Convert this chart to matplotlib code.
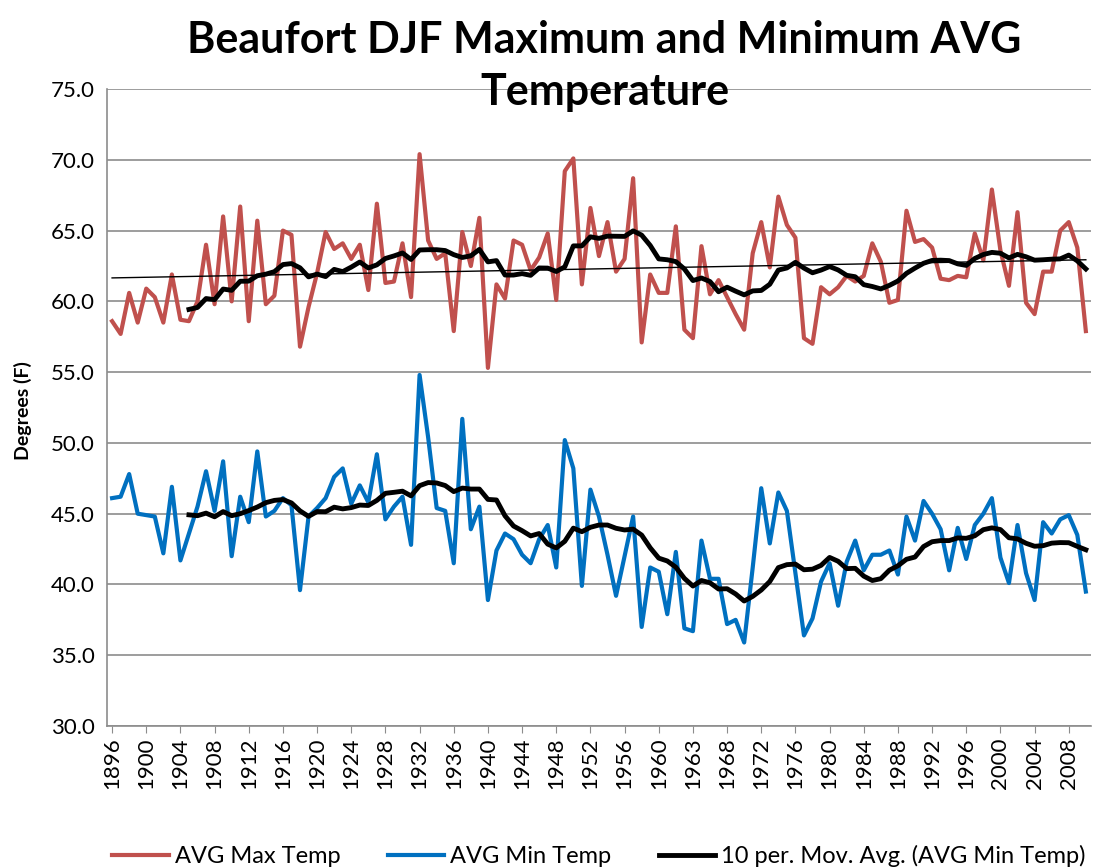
import matplotlib
matplotlib.use("Agg")
import matplotlib.pyplot as plt
import numpy as np
import pandas as pd

plt.rcParams['font.family'] = ['Lato', 'DejaVu Sans']

# Category labels (source sheet lists 1963 twice, as shown on the axis)
years = list(range(1896, 2011))
years[68] = 1963

max_temp = [58.6, 57.7, 60.6, 58.5, 60.9, 60.3, 58.5, 61.9, 58.7, 58.6,
            60.0, 64.0, 59.8, 66.0, 60.0, 66.7, 58.6, 65.7, 59.8, 60.4,
            65.0, 64.7, 56.8, 59.6, 62.0, 64.9, 63.7, 64.1, 63.0, 64.0,
            60.8, 66.9, 61.3, 61.4, 64.1, 60.3, 70.4, 64.3, 63.0, 63.4,
            57.9, 64.9, 62.5, 65.9, 55.3, 61.2, 60.2, 64.3, 64.0, 62.2,
            63.1, 64.8, 60.1, 69.2, 70.1, 61.2, 66.6, 63.2, 65.6, 62.1,
            63.0, 68.7, 57.1, 61.9, 60.6, 60.6, 65.3, 58.0, 57.4, 63.9,
            60.5, 61.5, 60.3, 59.1, 58.0, 63.4, 65.6, 62.4, 67.4, 65.4,
            64.5, 57.4, 57.0, 61.0, 60.5, 61.0, 61.8, 61.4, 61.8, 64.1,
            62.8, 59.9, 60.1, 66.4, 64.2, 64.4, 63.8, 61.6, 61.5, 61.8,
            61.7, 64.8, 62.9, 67.9, 63.6, 61.1, 66.3, 59.9, 59.1, 62.1,
            62.1, 65.0, 65.6, 63.8, 57.9]

min_temp = [46.1, 46.2, 47.8, 45.0, 44.9, 44.8, 42.2, 46.9, 41.7, 43.6,
            45.5, 48.0, 45.2, 48.7, 42.0, 46.2, 44.4, 49.4, 44.8, 45.2,
            46.1, 45.6, 39.6, 44.8, 45.4, 46.1, 47.6, 48.2, 45.7, 47.0,
            45.8, 49.2, 44.6, 45.5, 46.2, 42.8, 54.8, 50.4, 45.4, 45.2,
            41.5, 51.7, 43.9, 45.5, 38.9, 42.4, 43.6, 43.2, 42.1, 41.5,
            43.2, 44.2, 41.2, 50.2, 48.2, 39.9, 46.7, 44.8, 42.1, 39.2,
            42.0, 44.8, 37.0, 41.2, 40.9, 37.9, 42.3, 36.9, 36.7, 43.1,
            40.4, 40.4, 37.2, 37.5, 35.9, 41.2, 46.8, 42.9, 46.5, 45.2,
            40.8, 36.4, 37.6, 40.2, 41.5, 38.5, 41.6, 43.1, 41.0, 42.1,
            42.1, 42.4, 40.7, 44.8, 43.1, 45.9, 45.0, 43.9, 41.0, 44.0,
            41.8, 44.2, 45.0, 46.1, 41.9, 40.1, 44.2, 40.8, 38.9, 44.4,
            43.6, 44.6, 44.9, 43.5, 39.5]

x = np.arange(len(years))
ma_max = pd.Series(max_temp).rolling(10).mean()
ma_min = pd.Series(min_temp).rolling(10).mean()
coef = np.polyfit(x, max_temp, 1)
trend = np.polyval(coef, x)

fig = plt.figure(figsize=(10.97, 8.67), dpi=100)
ax = fig.add_axes([0.0975, 0.1626, 0.897, 0.7347])

red = '#C0504D'
blue = '#0070C0'
l1, = ax.plot(x, max_temp, color=red, lw=3.0, solid_joinstyle='round', label='AVG Max Temp', zorder=3)
l2, = ax.plot(x, min_temp, color=blue, lw=3.0, solid_joinstyle='round', label='AVG Min Temp', zorder=3)
l3, = ax.plot(x, ma_min, color='black', lw=3.5, solid_joinstyle='round',
              label='10 per. Mov. Avg. (AVG Min Temp)', zorder=4)
ax.plot(x, ma_max, color='black', lw=3.5, solid_joinstyle='round', zorder=4)
ax.plot(x, trend, color='black', lw=1.0, zorder=5)

ax.set_ylim(30, 75)
ax.set_xlim(-0.6, len(years) - 0.4)
ax.set_yticks(np.arange(30, 75.1, 5))
ax.set_yticklabels([f'{v:.1f}' for v in np.arange(30, 75.1, 5)], fontsize=16)
ax.yaxis.grid(True, color='#8c8c8c', lw=1.2)
ax.set_axisbelow(True)

ticks = x[::4]
ax.set_xticks(ticks)
ax.set_xticklabels([str(years[i]) for i in ticks], rotation=90, fontsize=16)
ax.tick_params(axis='x', length=5, color='#8c8c8c', pad=3)
ax.tick_params(axis='y', length=0, pad=9)

for s in ['top', 'right']:
    ax.spines[s].set_visible(False)
ax.spines['left'].set_color('#8c8c8c')
ax.spines['bottom'].set_color('#8c8c8c')
ax.spines['left'].set_linewidth(1.2)
ax.spines['bottom'].set_linewidth(1.2)

fig.text(0.551, 0.954, 'Beaufort DJF Maximum and Minimum AVG', ha='center', va='center',
         fontsize=31, fontweight='bold')
fig.text(0.551, 0.894, 'Temperature', ha='center', va='center',
         fontsize=31, fontweight='bold')

fig.text(0.021, 0.527, 'Degrees (F)', rotation=90, ha='center', va='center',
         fontsize=14, fontweight='bold')

fig.legend(handles=[l1, l2, l3], loc='center', bbox_to_anchor=(0.546, 0.013),
           ncol=3, frameon=False, fontsize=17, handlelength=2.4, columnspacing=2.0,
           handletextpad=0.25)

fig.savefig('out.png', dpi=100)
